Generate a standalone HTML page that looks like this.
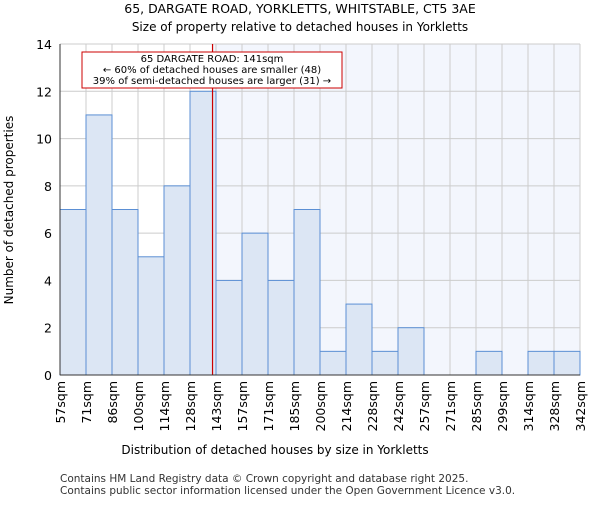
<!DOCTYPE html>
<html><head><meta charset="utf-8"><style>body{margin:0;background:#fff}svg{font-family:"DejaVu Sans","Liberation Sans",sans-serif}</style></head>
<body>
<svg id="c" width="600" height="500" xmlns="http://www.w3.org/2000/svg">
<text x="300" y="13" text-anchor="middle" font-size="12.5">65, DARGATE ROAD, YORKLETTS, WHITSTABLE, CT5 3AE</text>
<text x="300" y="31" text-anchor="middle" font-size="12">Size of property relative to detached houses in Yorkletts</text>
<g id="plot"></g>
<text x="275" y="454" text-anchor="middle" font-size="12">Distribution of detached houses by size in Yorkletts</text>
<text transform="translate(13,210) rotate(-90)" text-anchor="middle" font-size="12">Number of detached properties</text>
<text x="60" y="482" font-size="10.5" fill="#333">Contains HM Land Registry data © Crown copyright and database right 2025.</text>
<text x="60" y="494" font-size="10.5" fill="#333">Contains public sector information licensed under the Open Government Licence v3.0.</text>
</svg>
<script>
const edges=[57,71,86,100,114,128,143,157,171,185,200,214,228,242,257,271,285,299,314,328,342];
const counts=[7,11,7,5,8,12,4,6,4,7,1,3,1,2,0,0,1,0,1,1];
const yTicks=[0,2,4,6,8,10,12,14];
const propSize=141;
const X0=60,X1=580,Y0=375,Y1=44,yMax=14;
const bw=(X1-X0)/counts.length;
const xi=i=>X0+i*bw;
const y=v=>Y0-(v/yMax)*(Y0-Y1);
function xv(v){for(let i=0;i<edges.length-1;i++){if(v<=edges[i+1])return xi(i)+(v-edges[i])/(edges[i+1]-edges[i])*bw;}return X1;}
const NS="http://www.w3.org/2000/svg",g=document.getElementById('plot');
function el(t,a,p){const e=document.createElementNS(NS,t);for(const k in a)e.setAttribute(k,a[k]);(p||g).appendChild(e);return e;}
const px=xv(propSize);
let e=el('rect',{x:px,y:Y1,width:X1-px,height:Y0-Y1,fill:'#f3f6fd'});


yTicks.forEach(t=>{let l=el('line',{x1:X0,x2:X1,y1:y(t),y2:y(t),stroke:'#ccc'});


let tx=el('text',{x:X0-8,y:y(t)+5,'text-anchor':'end','font-size':12.5});tx.textContent=t;

});
edges.forEach((v,i)=>{let l=el('line',{x1:xi(i),x2:xi(i),y1:Y1,y2:Y0,stroke:'#ccc'});


let tx=el('text',{transform:`translate(${xi(i)+5},${Y0+6}) rotate(-90)`,'text-anchor':'end','font-size':12.5});tx.textContent=v+'sqm';

});
counts.forEach((c,i)=>{if(c<=0)return;let r=el('rect',{x:xi(i),y:y(c),width:bw,height:Y0-y(c),fill:'#dce6f4',stroke:'#5b8fd4','stroke-width':1});

});
e=el('line',{x1:px,x2:px,y1:Y1,y2:Y0,stroke:'#c00','stroke-width':1.2});


e=el('rect',{x:82,y:52,width:260,height:36,fill:'#fff',stroke:'#c00'});


["65 DARGATE ROAD: 141sqm","← 60% of detached houses are smaller (48)","39% of semi-detached houses are larger (31) →"].forEach((s,k)=>{let t=el('text',{x:212,y:62+k*11,'text-anchor':'middle','font-size':10});t.textContent=s;

});
e=el('line',{x1:X0,x2:X0,y1:Y1,y2:Y0,stroke:'#333'});


e=el('line',{x1:X0,x2:X1,y1:Y0,y2:Y0,stroke:'#333'});


</script>
</body></html>
